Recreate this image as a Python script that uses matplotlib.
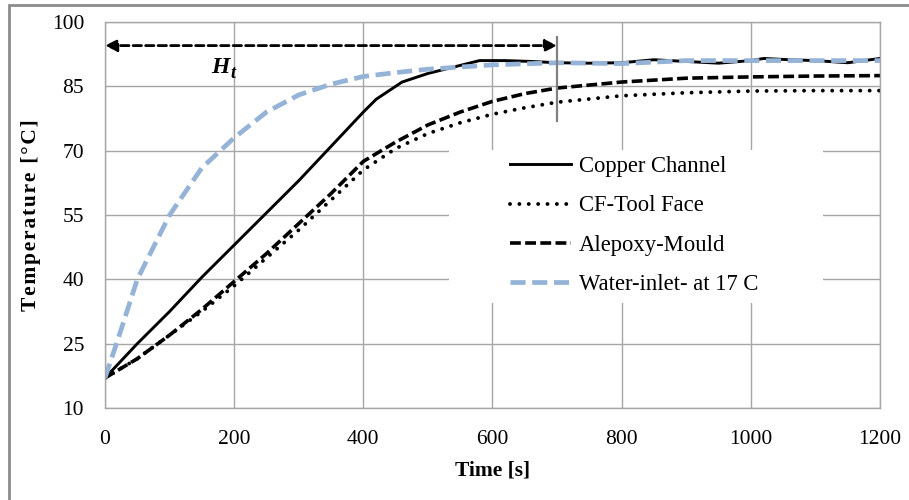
import matplotlib
matplotlib.use("Agg")
from matplotlib import pyplot as plt
from matplotlib.patches import Rectangle

plt.rcParams["font.family"] = ["Liberation Serif", "DejaVu Serif"]

# time [s]
copper_t = [0, 50, 100, 150, 200, 250, 300, 350, 400, 420, 440, 460, 480, 500,
            540, 580, 620, 660, 700, 750, 800, 850, 900, 950, 1000, 1020,
            1060, 1100, 1150, 1200]
copper_T = [17, 25, 32.5, 40.5, 48, 55.5, 63, 71, 79, 82, 84, 86, 87, 88,
            89.5, 91, 91, 90.8, 90.5, 90.4, 90.5, 91.2, 90.8, 90.4, 91, 91.5,
            91.2, 91, 90.5, 91.5]

cf_t = [0, 50, 100, 150, 200, 250, 300, 350, 400, 450, 500, 550, 600, 650,
        700, 800, 900, 1000, 1100, 1200]
cf_T = [17, 21.5, 27, 32.5, 38.5, 45, 51.5, 58.5, 65.5, 70.5, 74, 76.5,
        78.5, 80, 81.3, 82.8, 83.5, 83.9, 84, 84]

alep_t = [0, 50, 100, 150, 200, 250, 300, 350, 400, 450, 500, 550, 600, 650,
          700, 800, 900, 1000, 1100, 1200]
alep_T = [17, 21.5, 27, 33, 39.5, 46, 53, 60, 67.5, 72, 76, 79, 81.5,
          83.3, 84.6, 86, 86.9, 87.2, 87.4, 87.5]

water_t = [0, 20, 50, 100, 150, 200, 250, 300, 350, 400, 450, 500, 550,
           600, 700, 800, 900, 1000, 1100, 1200]
water_T = [17, 26, 40, 55, 66, 73, 79, 83, 85.5, 87.3, 88.2, 89, 89.5,
           90, 90.5, 90.3, 91, 91, 91, 91]

labels = ["Copper Channel", "CF-Tool Face", "Alepoxy-Mould",
          "Water-inlet- at 17 C"]

x_ticks = [0, 200, 400, 600, 800, 1000, 1200]
y_ticks = [10, 25, 40, 55, 70, 85, 100]

ht_start, ht_end = 0, 700

fig = plt.figure(figsize=(9.09, 5.0), dpi=100)
ax = fig.add_axes([105/909, 1 - 408/500, 775/909, 386/500])

ax.plot(copper_t, copper_T, color="black", lw=2.1, label=labels[0])
ax.plot(cf_t, cf_T, color="black", lw=2.8, linestyle=(0, (0.01, 2.4)),
        dash_capstyle="round", label=labels[1])
ax.plot(alep_t, alep_T, color="black", lw=2.6, linestyle=(0, (3.0, 1.2)),
        label=labels[2])
ax.plot(water_t, water_T, color="#95b3d7", lw=3.4, linestyle=(0, (3.2, 1.4)),
        label=labels[3])

# heating time marker
ax.annotate("", xy=(ht_start, 94.5), xytext=(ht_end, 94.5),
            arrowprops=dict(arrowstyle="<|-|>,head_length=0.5,head_width=0.25",
                            color="black", lw=2,
                            linestyle=(0, (3, 1.5)), mutation_scale=14,
                            shrinkA=0, shrinkB=0))
ax.plot([ht_end, ht_end], [77, 96.5], color="#808080", lw=1.6)
ax.text(164, 88.2, "H", fontsize=17, fontweight="bold", style="italic")
ax.text(195, 87.0, "t", fontsize=13, fontweight="bold", style="italic")

ax.set_xlim(0, 1200)
ax.set_ylim(10, 100)
ax.set_xticks(x_ticks)
ax.set_yticks(y_ticks)
ax.tick_params(axis="y", length=0, labelsize=15.5, pad=15)
ax.tick_params(axis="x", length=0, labelsize=15.5, pad=16)
ax.grid(True, color="#a6a6a6", lw=1)
ax.set_axisbelow(True)
for sp in ax.spines.values():
    sp.set_color("#a6a6a6")
    sp.set_linewidth(1)

# white area behind the legend hides the gridlines
ax.add_patch(Rectangle((0.444, 0.272), 0.482, 0.396, transform=ax.transAxes,
                       facecolor="white", edgecolor="none", zorder=1))

hs = "\u200a"
ax.set_ylabel(hs.join("Temperature [\u00b0C]"), fontsize=15.5,
              fontweight="bold", labelpad=8)
ax.set_xlabel("Time [s]", fontsize=15.5, fontweight="bold", labelpad=8)

leg = ax.legend(loc="upper left", bbox_to_anchor=(0.5226, 0.652),
                bbox_transform=ax.transAxes, frameon=False, borderpad=0,
                borderaxespad=0, fontsize=16.3, handlelength=2.7,
                handletextpad=0.33, labelspacing=0.8)

fig.patches.append(Rectangle((9/909, -0.01), 1.0, 1 - 5/500 + 0.01,
                             transform=fig.transFigure, fill=False,
                             edgecolor="#8c8c8c", lw=2))

fig.savefig("out.png", dpi=100)
